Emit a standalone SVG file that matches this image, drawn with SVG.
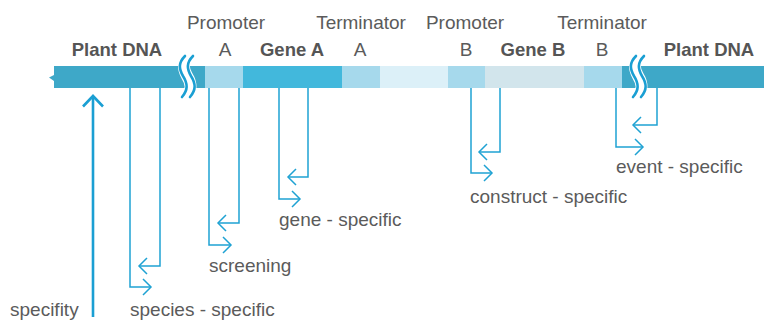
<svg xmlns="http://www.w3.org/2000/svg" width="764" height="321" viewBox="0 0 764 321">
  <style>
    .lbl { font-family: "Liberation Sans", Arial, sans-serif; font-size: 19px; fill: #5b5b5b; }
    .bold { font-family: "Liberation Sans", Arial, sans-serif; font-size: 18.5px; font-weight: bold; fill: #555555; }
    .mid { text-anchor: middle; }
    .con { fill: none; stroke: #1fa2d3; stroke-width: 1.5; marker-end: url(#arr); }
    .wave { fill: none; stroke: #1a9fd3; stroke-width: 2.6; stroke-linecap: round; }
    .gap { fill: none; stroke: #ffffff; stroke-width: 12; }
  </style>
  <defs>
    <marker id="arr" viewBox="0 0 20 20" refX="10" refY="10" markerWidth="20" markerHeight="20" markerUnits="userSpaceOnUse" orient="auto">
      <path d="M2,2 L10,10 L2,18" fill="none" stroke="#1fa2d3" stroke-width="1.5"/>
    </marker>
    <marker id="arrBig" viewBox="0 0 24 24" refX="12" refY="12" markerWidth="24" markerHeight="24" markerUnits="userSpaceOnUse" orient="auto">
      <path d="M1.5,2 L12,12 L1.5,22" fill="none" stroke="#1a9fd3" stroke-width="2.6"/>
    </marker>
    <path id="wv" d="M185,56 C178,63 179,69 183,76 C188,84 188,90 182,97"/>
  </defs>

  <g id="dna-bar">
    <polygon points="54,66 205,66 205,88 54,88 54,81 49,77.5 54,75" fill="#3ea8c8"/>
    <rect x="205" y="66" width="38" height="22" fill="#a6d9ec"/>
    <rect x="243" y="66" width="99" height="22" fill="#42b8dc"/>
    <rect x="342" y="66" width="38" height="22" fill="#a6d9ec"/>
    <rect x="380" y="66" width="68" height="22" fill="#dcf0f8"/>
    <rect x="448" y="66" width="37" height="22" fill="#a6d9ec"/>
    <rect x="485" y="66" width="99" height="22" fill="#d2e5ec"/>
    <rect x="584" y="66" width="38" height="22" fill="#a6d9ec"/>
    <rect x="622" y="66" width="142" height="22" fill="#3ea8c8"/>
  </g>

  <g id="break-left">
    <use href="#wv" class="gap" transform="translate(4,0)"/>
    <use href="#wv" class="wave"/>
    <use href="#wv" class="wave" transform="translate(8,0)"/>
  </g>
  <g id="break-right">
    <use href="#wv" class="gap" transform="translate(455,0)"/>
    <use href="#wv" class="wave" transform="translate(451,0)"/>
    <use href="#wv" class="wave" transform="translate(459,0)"/>
  </g>

  <g id="labels-top">
    <text class="bold mid" x="117" y="56">Plant DNA</text>
    <text class="lbl mid" x="226" y="29">Promoter</text>
    <text class="lbl mid" x="225" y="56">A</text>
    <text class="bold mid" x="292" y="56">Gene A</text>
    <text class="lbl mid" x="361" y="29">Terminator</text>
    <text class="lbl mid" x="360" y="56">A</text>
    <text class="lbl mid" x="465" y="29">Promoter</text>
    <text class="lbl mid" x="466" y="56">B</text>
    <text class="bold mid" x="533" y="56">Gene B</text>
    <text class="lbl mid" x="602" y="29">Terminator</text>
    <text class="lbl mid" x="602" y="56">B</text>
    <text class="bold mid" x="709" y="56">Plant DNA</text>
  </g>

  <g id="connectors">
    <path d="M93,317 V96" fill="none" stroke="#1a9fd3" stroke-width="2.6" marker-end="url(#arrBig)"/>
    <path class="con" d="M160,88 V266 H139"/>
    <path class="con" d="M130,88 V287 H151"/>
    <path class="con" d="M239,88 V223 H218"/>
    <path class="con" d="M209,88 V245 H231"/>
    <path class="con" d="M308,88 V177 H288"/>
    <path class="con" d="M279,88 V199 H300"/>
    <path class="con" d="M500,88 V152 H479"/>
    <path class="con" d="M471,88 V173 H492"/>
    <path class="con" d="M657,88 V125 H633"/>
    <path class="con" d="M616,88 V147 H643"/>
  </g>

  <g id="specifity"><text class="lbl" x="10" y="316">specifity</text></g>
  <g id="species-specific"><text class="lbl" x="130" y="316">species - specific</text></g>
  <g id="screening"><text class="lbl" x="209" y="272">screening</text></g>
  <g id="gene-specific"><text class="lbl" x="279" y="226">gene - specific</text></g>
  <g id="construct-specific"><text class="lbl" x="470" y="203">construct - specific</text></g>
  <g id="event-specific"><text class="lbl" x="616" y="173">event - specific</text></g>
</svg>
